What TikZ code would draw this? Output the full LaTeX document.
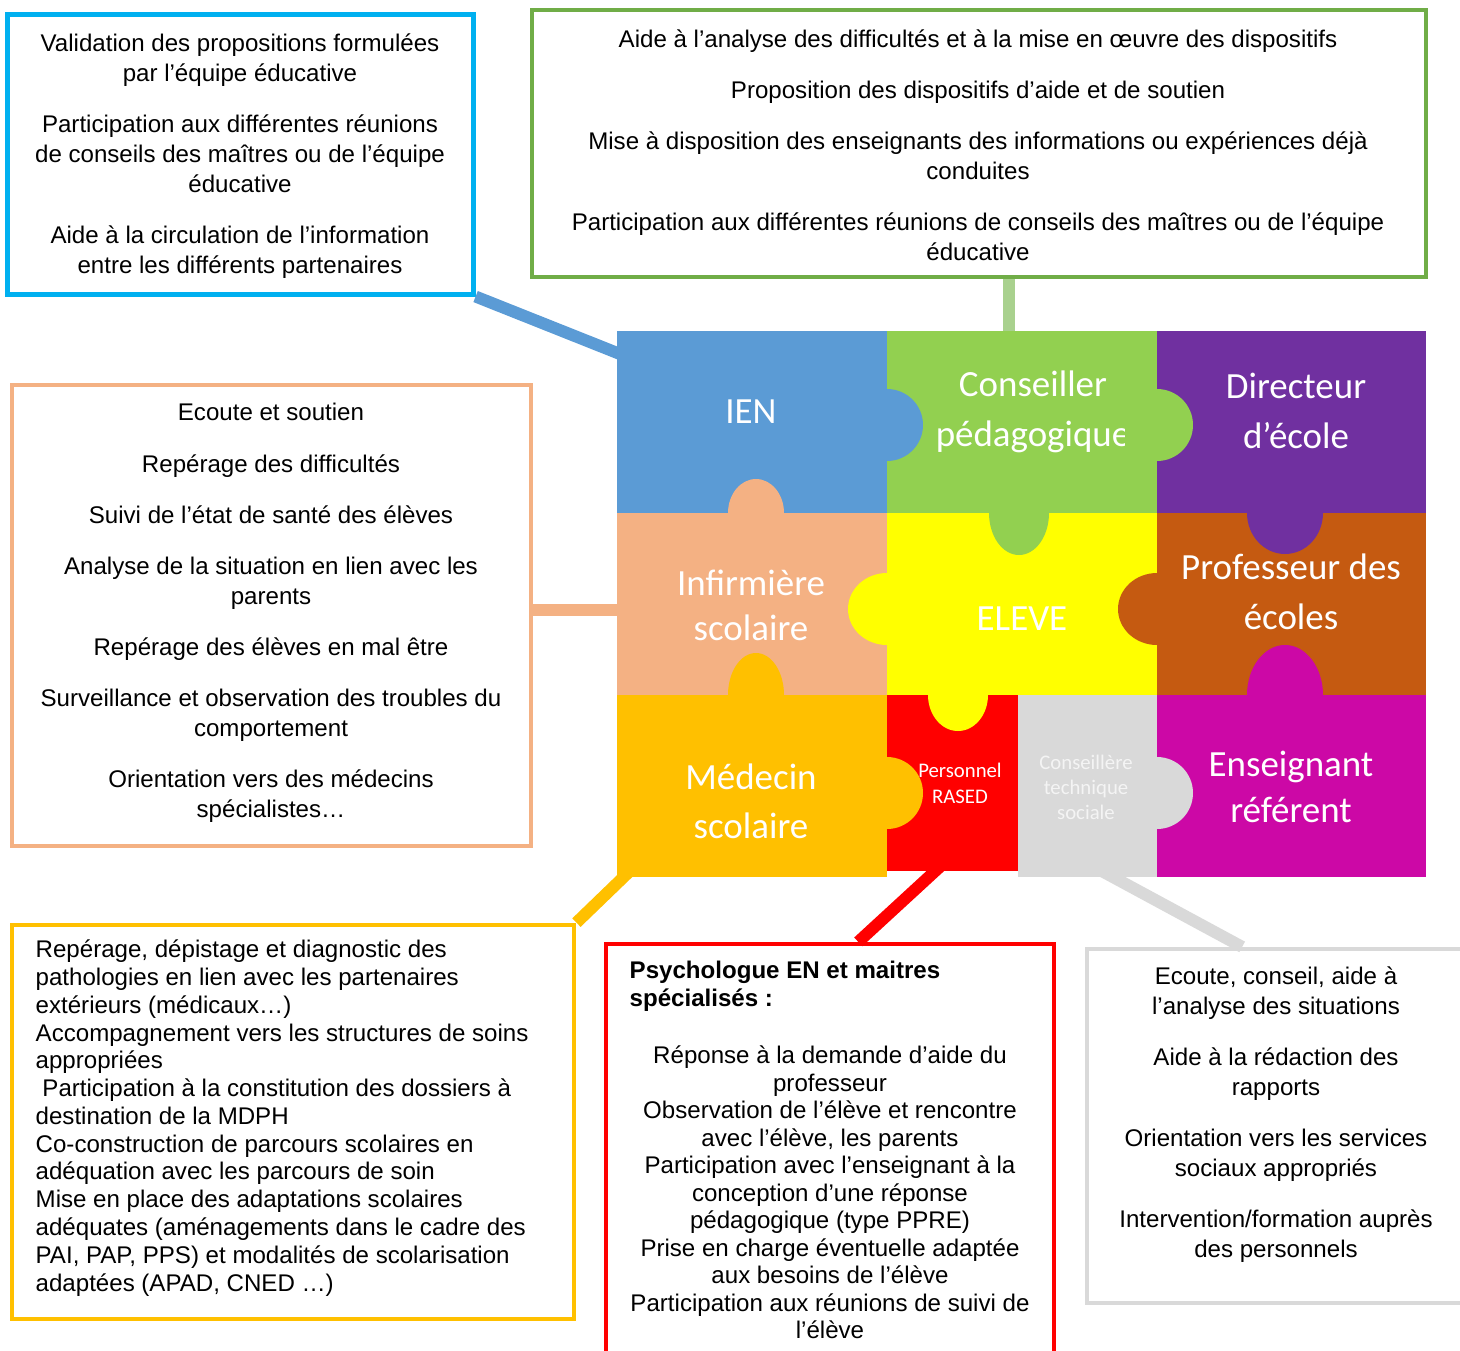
\documentclass[tikz,border=0pt]{standalone}
\usepackage{fontspec}
\setmainfont{Liberation Sans}
\newfontfamily\piecefont{Carlito}

\definecolor{iencyan}{HTML}{00B0F0}
\definecolor{cpframe}{HTML}{70AD47}
\definecolor{cplight}{HTML}{A9D18E}
\definecolor{ienblue}{HTML}{5B9BD5}
\definecolor{cpgreen}{HTML}{92D050}
\definecolor{dirpurple}{HTML}{7030A0}
\definecolor{infpeach}{HTML}{F4B183}
\definecolor{eleveyellow}{HTML}{FFFF00}
\definecolor{profbrown}{HTML}{C55A11}
\definecolor{medgold}{HTML}{FFC000}
\definecolor{rasedred}{HTML}{FF0000}
\definecolor{ctsgrey}{HTML}{D9D9D9}
\definecolor{ctstext}{HTML}{F4F4F4}
\definecolor{refmagenta}{HTML}{CC08A6}

\tikzset{
    infobox/.style={rectangle, draw, inner sep=0pt, line width=1.15pt},
    infotext/.style={inner sep=0pt, font=\fontsize{6.85}{8.53}\selectfont},
    piecelabel/.style={inner sep=0pt, text=white, align=center, font=\piecefont\fontsize{10.5}{14.2}\selectfont},
    link/.style={line width=3.4pt}
}

\begin{document}
\begin{tikzpicture}[x=0.01cm, y=-0.01cm]
        \clip (0, 0) rectangle (1460, 1351);
        % the six boxes
        \node (ienbox) at (240.5, 154.5) [infobox, draw=iencyan, line width=1.4pt, minimum width=4.65cm, minimum height=2.79cm] {};
        \node (cpbox) at (979, 143.5) [infobox, draw=cpframe, minimum width=8.94cm, minimum height=2.67cm] {};
        \node (infbox) at (271.5, 615.5) [infobox, draw=infpeach, line width=1.3pt, minimum width=5.19cm, minimum height=4.61cm] {};
        \node (medbox) at (293, 1122) [infobox, draw=medgold, line width=1.3pt, minimum width=5.62cm, minimum height=3.94cm] {};
        \node (rasedbox) at (830, 1172) [infobox, draw=rasedred, minimum width=4.48cm, minimum height=4.56cm] {};
        \node (ctsbox) at (1283.5, 1126) [infobox, draw=ctsgrey, minimum width=3.93cm, minimum height=3.54cm] {};

        \node (ientext) at (240, 156) [infotext, align=center] {Validation des propositions formulées\\par l’équipe éducative\\[6pt]Participation aux différentes réunions\\de conseils des maîtres ou de l’équipe\\éducative\\[6pt]Aide à la circulation de l’information\\entre les différents partenaires};
        \node (cptext) at (978, 145) [infotext, align=center] {Aide à l’analyse des difficultés et à la mise en œuvre des dispositifs\\[6pt]Proposition des dispositifs d’aide et de soutien\\[6pt]Mise à disposition des enseignants des informations ou expériences déjà\\conduites\\[6pt]Participation aux différentes réunions de conseils des maîtres ou de l’équipe\\éducative};
        \node (inftext) at (271, 613) [infotext, align=center] {Ecoute et soutien\\[6pt]Repérage des difficultés\\[6pt]Suivi de l’état de santé des élèves\\[6pt]Analyse de la situation en lien avec les\\parents\\[6pt]Repérage des élèves en mal être\\[6pt]Surveillance et observation des troubles du\\comportement\\[6pt]Orientation vers des médecins\\spécialistes…};
        \node (medtext) at (35, 1118) [infotext, anchor=west, align=left, font=\fontsize{6.85}{7.9}\selectfont] {Repérage, dépistage et diagnostic des\\pathologies en lien avec les partenaires\\extérieurs (médicaux…)\\Accompagnement vers les structures de soins\\appropriées\\\hspace*{0.28em}Participation à la constitution des dossiers à\\destination de la MDPH\\Co-construction de parcours scolaires en\\adéquation avec les parcours de soin\\Mise en place des adaptations scolaires\\adéquates (aménagements dans le cadre des\\PAI, PAP, PPS) et modalités de scolarisation\\adaptées (APAD, CNED …)};
        \node (rasedhead) at (629, 986) [infotext, anchor=west, align=left, font=\bfseries\fontsize{6.85}{7.95}\selectfont] {Psychologue EN et maitres\\spécialisés :};
        \node (rasedtext) at (830, 1192.5) [infotext, align=center, font=\fontsize{6.85}{7.82}\selectfont] {Réponse à la demande d’aide du\\professeur\\Observation de l’élève et rencontre\\avec l’élève, les parents\\Participation avec l’enseignant à la\\conception d’une réponse\\pédagogique (type PPRE)\\Prise en charge éventuelle adaptée\\aux besoins de l’élève\\Participation aux réunions de suivi de\\l’élève};
        \node (ctstext) at (1276, 1114.5) [infotext, align=center] {Ecoute, conseil, aide à\\l’analyse des situations\\[6pt]Aide à la rédaction des\\rapports\\[6pt]Orientation vers les services\\sociaux appropriés\\[6pt]Intervention/formation auprès\\des personnels};

        % links to the puzzle
        \coordinate (ienlink) at (630, 358);
        \coordinate (cplink) at (1009, 345);
        \coordinate (inflink) at (630, 610);
        \coordinate (medlink) at (632, 869);
        \coordinate (rasedlink) at (944, 863);
        \coordinate (ctslink) at (1098, 869);
        \draw[link, ienblue] (ienbox.south east) -- (ienlink);
        \draw[link, cplight] (cplink |- cpbox.south) -- (cplink);
        \draw[link, infpeach] (infbox.east |- inflink) -- (inflink);
        \draw[link, medgold] (medbox.north east) -- (medlink);
        \draw[link, rasedred] (rasedbox.83) -- (rasedlink);
        \draw[link, ctsgrey] (ctsbox.103.5) -- (ctslink);

        % puzzle
        \fill[ienblue] (617, 331) rectangle (887, 513);
        \fill[cpgreen] (887, 331) rectangle (1157, 513);
        \fill[dirpurple] (1157, 331) rectangle (1426, 513);
        \fill[infpeach] (617, 513) rectangle (887, 695);
        \fill[eleveyellow] (887, 513) rectangle (1157, 695);
        \fill[profbrown] (1157, 513) rectangle (1426, 695);
        \fill[medgold] (617, 695) rectangle (887, 877);
        \fill[rasedred] (887, 695) rectangle (1018, 871);
        \fill[ctsgrey] (1018, 695) rectangle (1157, 877);
        \fill[refmagenta] (1157, 695) rectangle (1426, 877);
        \fill[ienblue] (887, 425) ellipse [x radius=36, y radius=36];
        \fill[cpgreen] (1157, 425) ellipse [x radius=36, y radius=36];
        \fill[infpeach] (756, 513) ellipse [x radius=28, y radius=34];
        \fill[cpgreen] (1019, 513) ellipse [x radius=30, y radius=42];
        \fill[dirpurple] (1285, 513) ellipse [x radius=38, y radius=41];
        \fill[eleveyellow] (887, 609) ellipse [x radius=39, y radius=36];
        \fill[profbrown] (1157, 609) ellipse [x radius=39, y radius=36];
        \fill[medgold] (756, 695) ellipse [x radius=28, y radius=42];
        \fill[eleveyellow] (958, 695) ellipse [x radius=30, y radius=36];
        \fill[refmagenta] (1285, 695) ellipse [x radius=38, y radius=50];
        \fill[medgold] (887, 793) ellipse [x radius=36, y radius=36];
        \fill[ctsgrey] (1157, 793) ellipse [x radius=36, y radius=36];

        \node (ien) at (751, 412) [piecelabel] {IEN};
        \begin{scope}
            \clip (887, 331) rectangle (1124, 513);
            \node (cp) at (1033, 412) [piecelabel] {Conseiller\\pédagogique};
        \end{scope}
        \node (dir) at (1296, 411) [piecelabel] {Directeur\\d’école};
        \node (inf) at (751, 605) [piecelabel, font=\piecefont\fontsize{10.5}{12.8}\selectfont] {Infirmière\\scolaire};
        \node (eleve) at (1022, 619) [piecelabel] {ELEVE};
        \node (prof) at (1291, 592) [piecelabel] {Professeur des\\écoles};
        \node (med) at (751, 801) [piecelabel, font=\piecefont\fontsize{10.5}{13.9}\selectfont] {Médecin\\scolaire};
        \node (rased) at (960, 783) [piecelabel, font=\piecefont\fontsize{5.9}{7.4}\selectfont] {Personnel\\RASED};
        \node (cts) at (1086, 787) [piecelabel, text=ctstext, font=\piecefont\fontsize{5.9}{7.1}\selectfont] {Conseillère\\technique\\sociale};
        \node (ref) at (1291, 787) [piecelabel, font=\piecefont\fontsize{10.5}{13.1}\selectfont] {Enseignant\\référent};
    \end{tikzpicture}
\end{document}
